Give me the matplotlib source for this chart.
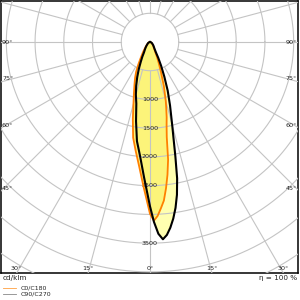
import numpy as np
import matplotlib
matplotlib.use("Agg")
import matplotlib.pyplot as plt

# polar luminous intensity distribution, gamma in degrees (negative = C180 / C270 side)
gamma = [-90, -75, -60, -45, -40, -35, -30, -27.5, -25, -22.5, -20, -17.5, -15, -12.5,
         -10, -7.5, -5, -2.5, 0, 1.25, 2.5, 3.75, 5, 6.25, 7.5, 8.75, 10, 11.25, 12.5,
         13.75, 15, 17.5, 20, 22.5, 25, 27.5, 30, 35, 40, 45, 60, 75, 90]
c0_c180 = [0, 15, 40, 90, 130, 210, 330, 440, 570, 680, 790, 930, 1110, 1380,
           1690, 1910, 2170, 2530, 2990, 3110, 3030, 2900, 2770, 2560, 2330, 2070, 1680, 1480, 1340,
           1190, 1060, 800, 560, 400, 290, 200, 160, 110, 85, 65, 35, 15, 0]
c90_c270 = [0, 15, 40, 80, 110, 150, 210, 290, 380, 510, 650, 800, 950, 1100,
            1400, 1740, 1990, 2360, 2860, 3130, 3340, 3440, 3370, 3250, 3100, 2920, 2700, 2420, 2040,
            1720, 1490, 1160, 900, 650, 460, 310, 200, 130, 100, 80, 40, 15, 0]

rings = [500, 1000, 1500, 2000, 2500, 3000, 3500, 4000, 4500, 5000, 5500]
ring_labels = [1000, 1500, 2000, 2500, 3500]
angle_labels = [0, 15, 30, 45, 60, 75, 90]


def to_xy(g, r):
    g = np.radians(np.asarray(g, dtype=float))
    r = np.asarray(r, dtype=float)
    return r * np.sin(g), -r * np.cos(g)


fig = plt.figure(figsize=(3, 3), dpi=100)
ax = fig.add_axes([1 / 300, 27 / 300, 297 / 300, 272 / 300])
s = 17.4  # cd/klm per pixel
xmin, xmax = -149 * s, 148 * s
ymin, ymax = -231 * s, 41 * s
ax.set_xlim(xmin, xmax)
ax.set_ylim(ymin, ymax)
ax.set_xticks([])
ax.set_yticks([])
for sp in ax.spines.values():
    sp.set_linewidth(1.1)
    sp.set_color("black")

grid_c = "#c4c4c4"
t = np.linspace(0, 2 * np.pi, 400)
for r in rings:
    ax.plot(r * np.cos(t), r * np.sin(t), color=grid_c, lw=0.8, zorder=3)
for a in range(0, 360, 15):
    x0, y0 = to_xy(a, 500)
    x1, y1 = to_xy(a, 8000)
    ax.plot([x0, x1], [y0, y1], color=grid_c, lw=0.8, zorder=3)

# curves
x1, y1 = to_xy(gamma, c90_c270)
x2, y2 = to_xy(gamma, c0_c180)
ax.fill(x1, y1, color="#ffffb0", lw=0, zorder=1)
ax.fill(x2, y2, color="#fcf47a", lw=0, zorder=2)
ax.plot(x2, y2, color="#ff8000", lw=1.3, zorder=5)
ax.plot(x1, y1, color="black", lw=1.5, zorder=6)

# ring values
for v in ring_labels:
    ax.text(0, -v, str(v), ha="center", va="center", fontsize=4.6, color="#222222", zorder=4)

# angle values
for a in angle_labels:
    if a >= 45:
        yy = -(-xmin) / np.tan(np.radians(a)) + 3 * s if a < 90 else 0
        ax.text(xmin + 1 * s, yy, f"{a}°", ha="left", va="center", fontsize=4.6, color="#222222", zorder=7)
        ax.text(xmax - 1 * s, yy, f"{a}°", ha="right", va="center", fontsize=4.6, color="#222222", zorder=7)
    else:
        xx = -ymin * np.tan(np.radians(a))
        sides = [xx] if a == 0 else [-xx, xx]
        for x in sides:
            ax.text(x, ymin + 2 * s, f"{a}°", ha="center", va="bottom", fontsize=4.6,
                    color="#222222", zorder=7)

fig.text(3 / 300, 1 - 278 / 300, "cd/klm", ha="left", va="center", fontsize=5.2, color="#222222")
fig.text(297 / 300, 1 - 278 / 300, "η = 100 %", ha="right", va="center", fontsize=5.2, color="#222222")
fig.add_artist(plt.Line2D([3 / 300, 16 / 300], [1 - 288 / 300] * 2, color="#ffa040", lw=0.6))
fig.add_artist(plt.Line2D([3 / 300, 16 / 300], [1 - 294 / 300] * 2, color="#888888", lw=0.6))
fig.text(21 / 300, 1 - 288 / 300, "C0/C180", ha="left", va="center", fontsize=4.5, color="#222222")
fig.text(21 / 300, 1 - 294 / 300, "C90/C270", ha="left", va="center", fontsize=4.5, color="#222222")

fig.savefig("out.png", dpi=100)
